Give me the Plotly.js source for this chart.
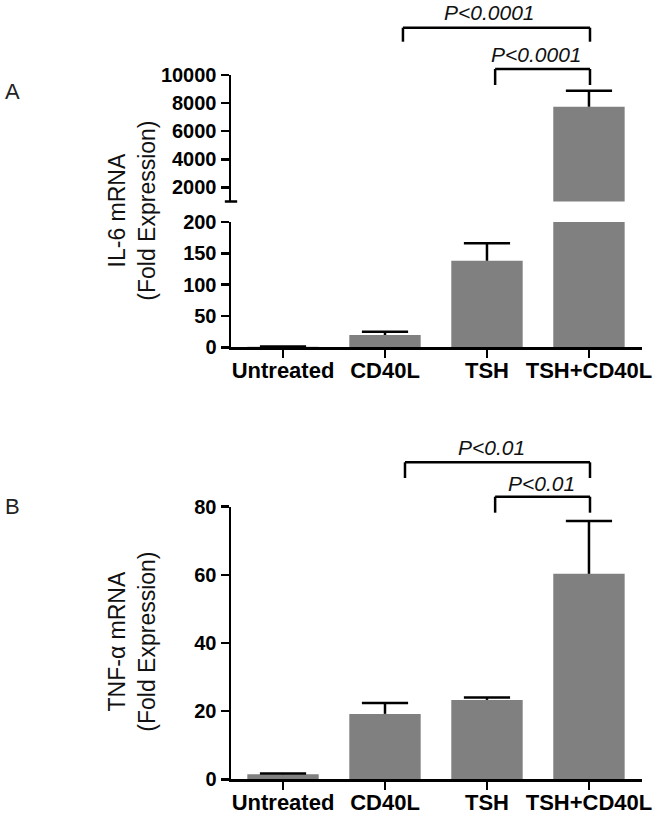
<!DOCTYPE html>
<html>
<head>
<meta charset="utf-8">
<script src="https://cdn.plot.ly/plotly-3.0.1.min.js"></script>
<style>html,body{margin:0;padding:0;background:#fff;}#chart{width:660px;height:820px;}</style>
</head>
<body>
<div id="chart"></div>
<script>
// ---- data ----
const categories = ['Untreated', 'CD40L', 'TSH', 'TSH+CD40L'];
const il6Values = [1, 19.5, 138, 7750];
const il6Errors = [0.3, 5.3, 28, 1130];
const tnfValues = [1.5, 19.2, 23.3, 60.3];
const tnfErrors = [0.2, 3.2, 0.7, 15.5];
const il6TopTicks = [2000, 4000, 6000, 8000, 10000];
const il6TopTickText = ['2000', '4000', '6000', '8000', '10000'];
const il6BottomTicks = [0, 50, 100, 150, 200];
const tnfTicks = [0, 20, 40, 60, 80];
const pLabelsA = ['P<0.0001', 'P<0.0001'];
const pLabelsB = ['P<0.01', 'P<0.01'];

const FONT = 'Liberation Sans, Arial, Helvetica, sans-serif';
const BAR = '#808080';
const H = 820, W = 660;
const py = p => 1 - p / H;   // pixel-from-top -> paper fraction
const px = p => p / W;

function barTrace(y, e, xa, ya) {
  return {type: 'bar', x: categories, y: y, xaxis: xa, yaxis: ya, width: 0.7,
          marker: {color: BAR, line: {width: 0}},
          error_y: {type: 'data', symmetric: false, array: e, arrayminus: e.map(() => 0),
                    color: '#000', thickness: 2.5, width: 0},
          hoverinfo: 'skip', showlegend: false};
}
function capTrace(y, e, xa, ya) {
  return {type: 'scatter', mode: 'markers', x: categories, y: y.map((v, i) => v + e[i]),
          xaxis: xa, yaxis: ya, cliponaxis: true,
          marker: {symbol: 'line-ew', size: 33, color: '#000', line: {color: '#000', width: 2.5}},
          hoverinfo: 'skip', showlegend: false};
}
const data = [
  barTrace(il6Values, il6Errors, 'x', 'y'),
  barTrace(il6Values, il6Errors, 'x', 'y2'),
  barTrace(tnfValues, tnfErrors, 'x2', 'y3'),
  capTrace(il6Values, il6Errors, 'x', 'y'),
  capTrace(il6Values, il6Errors, 'x', 'y2'),
  capTrace(tnfValues, tnfErrors, 'x2', 'y3')
];

const tickFontY = {family: FONT, size: 20, color: '#000', weight: 'bold'};
const tickFontX = {family: FONT, size: 22, color: '#000', weight: 'bold'};
const axBase = {showline: true, linecolor: '#000', linewidth: 2.5, ticks: 'outside',
                ticklen: 8, tickwidth: 2.5, tickcolor: '#000', showgrid: false,
                zeroline: false, fixedrange: true};
const xDom = [px(231), px(642)];
const xRange = [-0.51, 3.52];

const layout = {
  width: W, height: H, margin: {l: 0, r: 0, t: 0, b: 0},
  paper_bgcolor: '#fff', plot_bgcolor: 'rgba(0,0,0,0)',
  showlegend: false, bargap: 0.3,
  xaxis: Object.assign({}, axBase, {type: 'category', domain: xDom, range: xRange,
         anchor: 'y', tickfont: tickFontX, ticklabelstandoff: -6}),
  xaxis2: Object.assign({}, axBase, {type: 'category', domain: xDom, range: xRange,
         anchor: 'y3', tickfont: tickFontX, ticklabelstandoff: -6}),
  yaxis: Object.assign({}, axBase, {domain: [py(347.3), py(222)], range: [0, 200],
         tickvals: il6BottomTicks, anchor: 'x', tickfont: tickFontY}),
  yaxis2: Object.assign({}, axBase, {domain: [py(201.5), py(75)], range: [1000, 10000],
         tickvals: il6TopTicks, ticktext: il6TopTickText, anchor: 'x', tickfont: tickFontY}),
  yaxis3: Object.assign({}, axBase, {domain: [py(779.3), py(506.7)], range: [0, 80],
         tickvals: tnfTicks, anchor: 'x2', tickfont: tickFontY}),
  shapes: [],
  annotations: []
};

function bracket(xl, xr, yTop, yLeg, ref) {
  const ln = {color: '#000', width: 2.5};
  layout.shapes.push({type: 'line', xref: ref, yref: 'paper', x0: xl, x1: xr, y0: py(yTop), y1: py(yTop), line: ln});
  layout.shapes.push({type: 'line', xref: ref, yref: 'paper', x0: xl, x1: xl, y0: py(yTop), y1: py(yLeg), line: ln});
  layout.shapes.push({type: 'line', xref: ref, yref: 'paper', x0: xr, x1: xr, y0: py(yTop), y1: py(yLeg), line: ln});
}
function pText(t, x, y, ref) {
  layout.annotations.push({text: t, xref: ref, yref: 'paper', x: x, y: py(y),
    xanchor: 'center', yanchor: 'middle', showarrow: false,
    font: {family: FONT, size: 21, color: '#111', style: 'italic'}});
}
// Panel A brackets
bracket(1.176, 3.01, 27.7, 41.7, 'x');
bracket(2.08, 3.01, 69, 85, 'x');
pText(pLabelsA[0], 2.02, 12, 'x');
pText(pLabelsA[1], 2.49, 54, 'x');
// Panel B brackets
bracket(1.196, 3.01, 462.3, 478, 'x2');
bracket(2.08, 3.01, 496.7, 512.7, 'x2');
pText(pLabelsB[0], 2.04, 447, 'x2');
pText(pLabelsB[1], 2.53, 483.5, 'x2');

// axis break mark at bottom of upper segment
layout.shapes.push({type: 'line', xref: 'x domain', yref: 'y2 domain', x0: -0.015, x1: 0.015,
  y0: 0, y1: 0, line: {color: '#000', width: 2.5}});

// y axis titles
function yTitle(t, yc) {
  layout.annotations.push({text: t, xref: 'paper', yref: 'paper', x: px(131.7), y: py(yc),
    xanchor: 'center', yanchor: 'middle', textangle: -90, showarrow: false, align: 'center',
    font: {family: FONT, size: 23, color: '#111'}});
}
yTitle('IL-6 mRNA<br>(Fold Expression)', 211);
yTitle('TNF-α mRNA<br>(Fold Expression)', 642);

// panel letters
function letter(t, yc) {
  layout.annotations.push({text: t, xref: 'paper', yref: 'paper', x: px(12), y: py(yc),
    xanchor: 'center', yanchor: 'middle', showarrow: false,
    font: {family: FONT, size: 22, color: '#222'}});
}
letter('A', 92);
letter('B', 506);

Plotly.newPlot('chart', data, layout, {staticPlot: true, displayModeBar: false});
</script>
</body>
</html>
